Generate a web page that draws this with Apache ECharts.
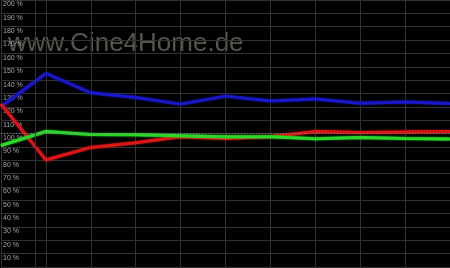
<!DOCTYPE html>
<html>
<head>
<meta charset="utf-8">
<script src="https://cdn.jsdelivr.net/npm/echarts@6/dist/echarts.min.js"></script>
<style>
html,body{margin:0;padding:0;background:#000;}
#chart{width:450px;height:268px;}
</style>
</head>
<body>
<div id="chart"></div>
<script>
var xSteps = [0, 1, 2, 3, 4, 5, 6, 7, 8, 9, 10];
var blueValues = [120, 145, 130.5, 127, 122, 128, 124.3, 125.8, 122.7, 123.6, 122.4];
var redValues = [122, 80.2, 89.6, 93, 97.5, 96.3, 97.6, 101.5, 100.7, 101.2, 101.5];
var greenValues = [91, 101.5, 99.2, 99, 98.3, 97.6, 97.5, 96, 97, 96.3, 95.8];
var yTicks = [0, 10, 20, 30, 40, 50, 60, 70, 80, 90, 100, 110, 120, 130, 140, 150, 160, 170, 180, 190, 200];
var referenceLevel = [100];
var extraGridX = [0.756];
var watermark = 'www.Cine4Home.de';

function pairs(vals) { return xSteps.map(function (x, i) { return [x, vals[i]]; }); }

var gridColor = '#333333';
var chart = echarts.init(document.getElementById('chart'), null, { renderer: 'canvas' });
chart.setOption({
  backgroundColor: '#000000',
  animation: false,
  grid: { left: 0, right: 0, top: -2, bottom: 1, containLabel: false },
  xAxis: {
    type: 'value', min: xSteps[0], max: xSteps[xSteps.length - 1], interval: 1,
    axisLine: { show: false }, axisTick: { show: false }, axisLabel: { show: false },
    splitLine: { show: true, lineStyle: { color: gridColor, width: 1 } }
  },
  yAxis: {
    type: 'value', min: yTicks[0], max: yTicks[yTicks.length - 1], interval: 10,
    axisLine: { show: false }, axisTick: { show: false },
    axisLabel: {
      show: true, inside: true, margin: 2, color: '#a8a8a8', fontSize: 7,
      fontFamily: 'Liberation Sans', verticalAlign: 'top', padding: [1, 0, 0, 0],
      formatter: function (v) { return (v <= 0) ? '' : v + ' %'; }
    },
    splitLine: { show: true, lineStyle: { color: gridColor, width: 1 } }
  },
  graphic: [{
    type: 'text', left: 8, top: 31, z: 0, silent: true,
    style: { text: watermark, font: '26px "Liberation Sans"', fill: '#56564c' }
  }],
  series: [
    {
      type: 'line', data: pairs(blueValues), symbol: 'none', z: 3,
      lineStyle: { color: '#1818c8', width: 3, shadowBlur: 2, shadowColor: '#1818c8' },
      markLine: {
        silent: true, symbol: 'none', label: { show: false },
        lineStyle: { color: gridColor, width: 1, type: 'solid' },
        data: extraGridX.map(function (v) { return { xAxis: v }; })
      }
    },
    {
      type: 'line', data: pairs(redValues), symbol: 'none', z: 3,
      lineStyle: { color: '#dc1616', width: 3, shadowBlur: 2, shadowColor: '#dc1616' },
      markLine: {
        silent: true, symbol: 'none', label: { show: false },
        lineStyle: { color: '#808080', width: 1, type: [1, 2] },
        data: referenceLevel.map(function (v) { return { yAxis: v }; })
      }
    },
    {
      type: 'line', data: pairs(greenValues), symbol: 'none', z: 4,
      lineStyle: { color: '#2ad82a', width: 3, shadowBlur: 2, shadowColor: '#2ad82a' }
    }
  ]
});
</script>
</body>
</html>
